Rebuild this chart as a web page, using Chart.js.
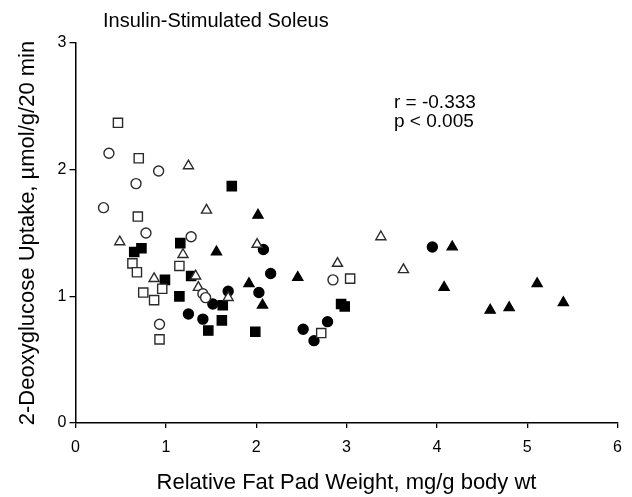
<!DOCTYPE html>
<html>
<head>
<meta charset="utf-8">
<script src="https://cdn.jsdelivr.net/npm/chart.js@4.4.1/dist/chart.umd.min.js"></script>
<style>
  body { margin: 0; background: #fff; }
  #wrap { width: 632px; height: 497px; }
</style>
</head>
<body>
<div id="wrap"><canvas id="chart1" width="632" height="497"></canvas></div>
<script>
// fat pad weight (x) and 2-DG uptake (y) for each group
const openSqX = [0.47, 0.70, 0.69, 0.63, 0.68, 1.15, 0.75, 0.96, 0.87, 0.93, 3.04, 2.72];
const openSqY = [2.37, 2.09, 1.63, 1.26, 1.19, 1.24, 1.03, 1.06, 0.97, 0.66, 1.14, 0.71];

const openCircX = [0.37, 0.92, 0.67, 0.31, 0.78, 1.28, 0.93, 1.41, 1.44, 2.85];
const openCircY = [2.13, 1.99, 1.89, 1.70, 1.50, 1.47, 0.78, 1.02, 0.99, 1.13];

const openTriX = [1.25, 1.45, 0.49, 1.19, 1.33, 0.87, 1.36, 1.69, 2.01, 2.90, 3.38, 3.63];
const openTriY = [2.03, 1.68, 1.43, 1.33, 1.16, 1.14, 1.07, 0.99, 1.41, 1.26, 1.47, 1.21];

const fillSqX = [0.65, 0.73, 1.16, 1.28, 0.99, 1.15, 1.73, 1.63, 1.62, 1.47, 1.99, 2.94, 2.98];
const fillSqY = [1.35, 1.38, 1.42, 1.16, 1.13, 1.00, 1.87, 0.93, 0.81, 0.73, 0.72, 0.94, 0.92];

const fillCircX = [1.25, 1.41, 1.52, 1.69, 2.03, 2.08, 2.16, 2.52, 2.79, 2.64, 3.95];
const fillCircY = [0.86, 0.82, 0.94, 1.04, 1.03, 1.37, 1.18, 0.74, 0.80, 0.65, 1.39];

const fillTriX = [2.02, 1.56, 2.46, 1.92, 2.07, 4.17, 4.08, 5.11, 4.59, 4.80, 5.40];
const fillTriY = [1.64, 1.35, 1.15, 1.10, 0.93, 1.39, 1.07, 1.10, 0.89, 0.91, 0.95];

const xTicks = [0, 1, 2, 3, 4, 5, 6];
const yTicks = [0, 1, 2, 3];

const titleText = 'Insulin-Stimulated Soleus';
const statLines = ['r = -0.333', 'p < 0.005'];

function pts(xs, ys) {
  return xs.map((x, i) => ({ x: x, y: ys[i] }));
}

const font = 'Liberation Sans, Arial, sans-serif';
const edge = '#2b2b2b';

function series(xs, ys, shape, filled, r) {
  return {
    data: pts(xs, ys),
    pointStyle: shape,
    pointRadius: r,
    pointHoverRadius: r,
    pointBorderWidth: 1.4,
    borderColor: filled ? '#000' : edge,
    backgroundColor: filled ? '#000' : '#fff',
    showLine: false
  };
}

// title + r/p text
const textPlugin = {
  id: 'extraText',
  afterDraw(chart) {
    const ctx = chart.ctx;
    ctx.save();
    ctx.fillStyle = '#000';
    ctx.textBaseline = 'alphabetic';
    ctx.textAlign = 'left';
    ctx.font = '20px ' + font;
    ctx.fillText(titleText, 103, 27);
    ctx.font = '19px ' + font;
    ctx.fillText(statLines[0], 394, 108);
    ctx.fillText(statLines[1], 394, 127);
    ctx.restore();
  }
};

const ctx = document.getElementById('chart1').getContext('2d');
new Chart(ctx, {
  type: 'scatter',
  data: {
    datasets: [
      series(openSqX, openSqY, 'rect', false, 6.5),
      series(openCircX, openCircY, 'circle', false, 5),
      series(openTriX, openTriY, 'triangle', false, 5.8),
      series(fillSqX, fillSqY, 'rect', true, 6.5),
      series(fillCircX, fillCircY, 'circle', true, 5),
      series(fillTriX, fillTriY, 'triangle', true, 5.8)
    ]
  },
  options: {
    responsive: false,
    animation: false,
    devicePixelRatio: 1,
    layout: { padding: { left: 0, top: 43, right: 14, bottom: 0 } },
    plugins: {
      legend: { display: false },
      tooltip: { enabled: false }
    },
    scales: {
      x: {
        type: 'linear',
        min: 0,
        max: 6,
        afterBuildTicks: s => { s.ticks = xTicks.map(v => ({ value: v })); },
        afterFit: s => { s.height = 74; },
        ticks: { color: '#000', font: { family: font, size: 16 }, padding: 10 },
        grid: { drawOnChartArea: false, color: '#000', tickLength: 5, lineWidth: 1.3 },
        border: { color: '#000', width: 1.5 },
        title: {
          display: true,
          text: 'Relative Fat Pad Weight, mg/g body wt',
          color: '#000',
          font: { family: font, size: 22 },
          padding: { top: 0, bottom: 1 }
        }
      },
      y: {
        min: 0,
        max: 3,
        afterBuildTicks: s => { s.ticks = yTicks.map(v => ({ value: v })); },
        afterFit: s => { s.width = 75.5; },
        ticks: { color: '#000', font: { family: font, size: 16 }, padding: 3 },
        grid: { drawOnChartArea: false, color: '#000', tickLength: 6, lineWidth: 1.3 },
        border: { color: '#000', width: 1.5 },
        title: {
          display: true,
          text: '2-Deoxyglucose Uptake, µmol/g/20 min',
          color: '#000',
          font: { family: font, size: 22 },
          padding: { top: 15, bottom: 0 }
        }
      }
    }
  },
  plugins: [textPlugin]
});
</script>
</body>
</html>
